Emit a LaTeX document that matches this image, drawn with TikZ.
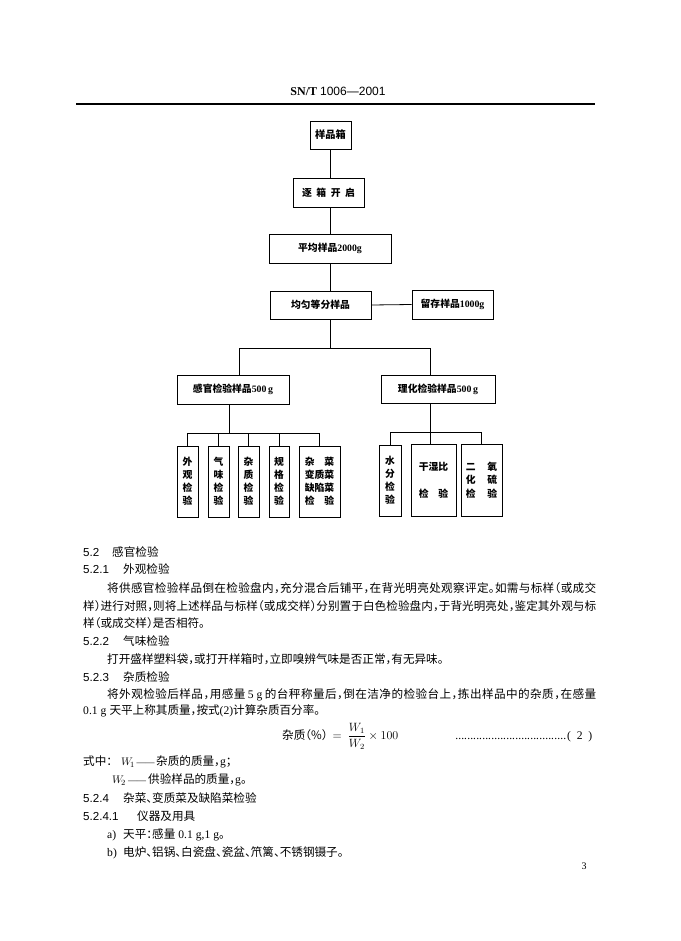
\documentclass[tikz,border=0pt]{standalone}
\usepackage{fontspec}
\usepackage{amsmath}
\setmainfont{Liberation Serif}
\newfontfamily\cjkf[RawFeature=+halt]{Noto Sans CJK SC}
\newfontfamily\cjkb{Noto Sans CJK SC}
\newfontfamily\hsans{Liberation Sans}
\newcommand\boxfont{\fontsize{9.8}{13}\selectfont\cjkb\bfseries}
\newcommand\bodyfont{\fontsize{11.6}{17.7}\selectfont\cjkf}
\newcommand\lat[1]{{\rmfamily #1}}
\newcommand\latb[1]{{\rmfamily\bfseries #1}}
\newcommand\secn[1]{{\hsans #1}}
\makeatletter
\def\sprd#1{\sprd@a#1\sprd@end}
\def\sprd@a#1{#1\futurelet\sprd@next\sprd@b}
\def\sprd@b{\ifx\sprd@next\sprd@end\expandafter\@gobble\else\hskip0pt plus 1fil\relax\expandafter\sprd@a\fi}
\def\sprd@end{}
\makeatother
\begin{document}
\begin{tikzpicture}[x=1pt,y=-1pt,
  box/.style={draw, line width=0.9pt, inner sep=0pt, align=center, font=\boxfont},
  conn/.style={line width=0.8pt},
  txt/.style={anchor=base west, inner sep=0pt, font=\bodyfont},
  mth/.style={anchor=base west, inner sep=0pt, font=\fontsize{10.8}{13}\selectfont},
  rule/.style={line width=1.2pt}
]
\useasboundingbox (0,0) rectangle (680,941);
\fill[white] (0,0) rectangle (680,941);

% header
\node[anchor=base, inner sep=0pt] (hdr) at (338,95.5) {\fontsize{12}{14}\selectfont{\bfseries SN/T} {\hsans 1006—2001}};
\coordinate (rl) at (76,104);
\coordinate (rr) at (595,104);
\draw[rule] (rl) -- (rr);

% diagram boxes
\node[box, minimum width=41pt, minimum height=28pt] (b1) at (330.5,135) {\fontsize{10.2}{13}\selectfont 样品箱};
\node[box, minimum width=71pt, minimum height=29pt] (b2) at (328.5,192.5) {逐\hspace{4.5pt}箱\hspace{4.5pt}开\hspace{4.5pt}启};
\node[box, minimum width=122pt, minimum height=29pt] (b3) at (330,248.5) {平均样品\latb{2000g}};
\node[box, minimum width=101pt, minimum height=28pt] (b4) at (320.5,305) {均匀等分样品};
\node[box, minimum width=81pt, minimum height=29pt] (b5) at (452.5,304.5) {留存样品\latb{1000g}};
\node[box, minimum width=112pt, minimum height=29pt] (b6) at (233,389.5) {感官检验样品\latb{500\,g}};
\node[box, minimum width=114pt, minimum height=28pt] (b7) at (438,389) {理化检验样品\latb{500\,g}};

\node[box, minimum width=21pt, minimum height=71pt] (s1) at (187.5,481.5) {外\\观\\检\\验};
\node[box, minimum width=21pt, minimum height=71pt] (s2) at (218.5,481.5) {气\\味\\检\\验};
\node[box, minimum width=21pt, minimum height=71pt] (s3) at (248.5,481.5) {杂\\质\\检\\验};
\node[box, minimum width=20pt, minimum height=71pt] (s4) at (279,481.5) {规\\格\\检\\验};
\node[box, minimum width=41pt, minimum height=71pt] (s5) at (319.5,481.5) {\makebox[3em][s]{杂\hfil 菜}\\变质菜\\缺陷菜\\\makebox[3em][s]{检\hfil 验}};

\node[box, minimum width=22pt, minimum height=71pt] (r1) at (390,480.5) {水\\分\\检\\验};
\node[box, minimum width=45pt, minimum height=72pt] (r2) at (433.5,480) {干湿比\\[14pt]\makebox[3em][s]{检\hfil 验}};
\node[box, minimum width=41pt, minimum height=72pt] (r3) at (481.5,480) {\makebox[3.2em][s]{二\hfil 氧}\\[0.5pt]\makebox[3.2em][s]{化\hfil 硫}\\[0.5pt]\makebox[3.2em][s]{检\hfil 验}};

% connectors
\coordinate (j1) at (330,348);
\coordinate (jl) at (239,348);
\coordinate (jr) at (430,348);
\coordinate (k1) at (229,433);
\coordinate (k2) at (430,432);
\draw[conn] (b1.south -| j1) -- (b2.north -| j1);
\draw[conn] (b2.south -| j1) -- (b3.north -| j1);
\draw[conn] (b3.south -| j1) -- (b4.north -| j1);
\draw[conn] (b4.east) -- (b5.west);
\draw[conn] (b4.south -| j1) -- (j1);
\draw[conn] (b6.north -| jl) -- (jl) -- (jr) -- (b7.north -| jr);
\draw[conn] (b6.south -| k1) -- (k1);
\draw[conn] (s1.north) -- (s1.north |- k1) -- (s5.north |- k1) -- (s5.north);
\draw[conn] (s2.north) -- (s2.north |- k1);
\draw[conn] (s3.north) -- (s3.north |- k1);
\draw[conn] (s4.north) -- (s4.north |- k1);
\draw[conn] (b7.south -| k2) -- (r2.north -| k2);
\draw[conn] (r1.north) -- (r1.north |- k2) -- (r3.north |- k2) -- (r3.north);

% body text
\node[txt] (t1a) at (83,556.5) {\secn{5.2}};
\node[txt] (t1b) at (112,556.5) {感官检验};
\node[txt] (t2a) at (83,573.5) {\secn{5.2.1}};
\node[txt] (t2b) at (123,573.5) {外观检验};
\node[txt] (t3) at (107,592.5) {\makebox[489pt][s]{\sprd{将供感官检验样品倒在检验盘内，充分混合后铺平，在背光明亮处观察评定。如需与标样（或成交}}};
\node[txt] (t4) at (83,610.5) {\makebox[513pt][s]{\sprd{样）进行对照，则将上述样品与标样（或成交样）分别置于白色检验盘内，于背光明亮处，鉴定其外观与标}}};
\node[txt] (t5) at (83,627.5) {样（或成交样）是否相符。};
\node[txt] (t6a) at (83,645.5) {\secn{5.2.2}};
\node[txt] (t6b) at (123,645.5) {气味检验};
\node[txt] (t7) at (107,663.5) {打开盛样塑料袋，或打开样箱时，立即嗅辨气味是否正常，有无异味。};
\node[txt] (t8a) at (83,681.5) {\secn{5.2.3}};
\node[txt] (t8b) at (123,681.5) {杂质检验};
\node[txt] (t9) at (107,698.5) {\makebox[489pt][s]{\sprd{将外观检验后样品，用感量}\hskip 2pt plus 1fil\lat{5\kern3pt g}\hskip 2pt plus 1fil\sprd{的台秤称量后，倒在洁净的检验台上，拣出样品中的杂质，在感量}}};
\node[txt] (t10) at (83,714.5) {\lat{0.1\kern3pt g\kern3pt}天平上称其质量，按式\lat{(2)}计算杂质百分率。};
\node[txt] (f1) at (282,739.5) {杂质（\%）\hspace{5pt}$=\ \dfrac{W_1}{W_2}\times 100$};
\node[txt] (f2) at (455,739.5) {\rmfamily\makebox[112pt]{\leaders\hbox to 3pt{\hss.\hss}\hfill}};
\node[txt] (f3) at (567,739.5) {\rmfamily (\enspace2\enspace)};
\node[txt] (t12a) at (83,765.5) {式中：};
\node[mth] (t12b) at (121,765.5) {$W_{\!1}$};
\node[txt] (t12c) at (136.5,765.5) {\rmfamily\fontsize{9}{10}\selectfont ——};
\node[txt] (t12d) at (156,765.5) {杂质的质量，\lat{g}；};
\node[mth] (t13b) at (112,783.5) {$W_{\!2}$};
\node[txt] (t13c) at (128,783.5) {\rmfamily\fontsize{9}{10}\selectfont ——};
\node[txt] (t13d) at (148,783.5) {供验样品的质量，\lat{g}。};
\node[txt] (t14a) at (83,802.5) {\secn{5.2.4}};
\node[txt] (t14b) at (123,802.5) {杂菜、变质菜及缺陷菜检验};
\node[txt] (t15a) at (83,820.5) {\secn{5.2.4.1}};
\node[txt] (t15b) at (137,820.5) {仪器及用具};
\node[txt] (t16a) at (107,838.5) {\lat{a)}};
\node[txt] (t16b) at (123,838.5) {天平：感量\lat{\kern3pt 0.1\kern3pt g,1\kern3pt g}。};
\node[txt] (t17a) at (107,856.5) {\lat{b)}};
\node[txt] (t17b) at (123,856.5) {电炉、铝锅、白瓷盘、瓷盆、笊篱、不锈钢镊子。};
\node[anchor=base, inner sep=0pt, font=\fontsize{10}{12}\selectfont] (pg) at (584,869.5) {3};
\end{tikzpicture}
\end{document}
